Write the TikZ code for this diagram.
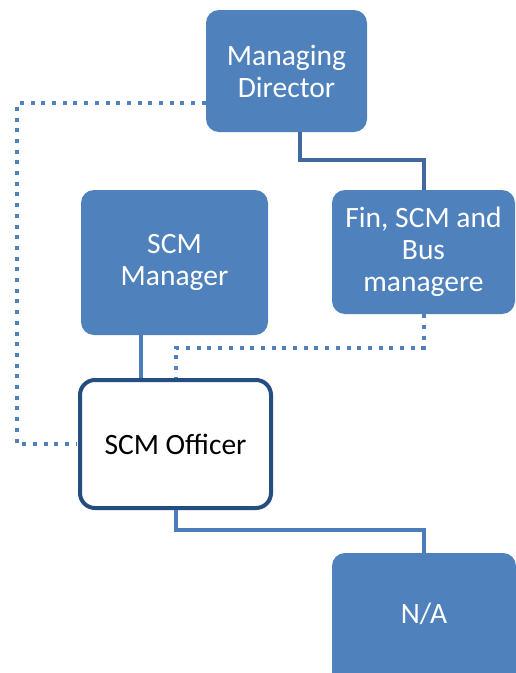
\documentclass[tikz,border=0pt]{standalone}
\usepackage{fontspec}
\setmainfont{Carlito}
\usetikzlibrary{calc}
\definecolor{boxblue}{HTML}{4F81BD}
\definecolor{darkline}{HTML}{244D80}
\definecolor{linkblue}{HTML}{4A7EBB}
\definecolor{toplink}{HTML}{41699F}
\tikzset{
  role box/.style={
    rectangle,
    rounded corners=13pt,
    fill=boxblue,
    text=white,
    align=center,
    font=\fontsize{29.5}{32}\selectfont
  },
  officer box/.style={
    rectangle,
    rounded corners=15pt,
    draw=darkline,
    line width=4pt,
    fill=white,
    align=center,
    font=\fontsize{29.5}{32}\selectfont
  },
  solid link/.style={
    line width=4pt,
    color=linkblue
  },
  dotted link/.style={
    line width=4pt,
    color=boxblue,
    dash pattern=on 4pt off 6.7pt
  }
}

\begin{document}
\begin{tikzpicture}[x=1pt, y=1pt]
    \useasboundingbox (0,0) rectangle (516,-673);
    \clip (0,0) rectangle (516,-673);

    % kaders (boxes)
    \node[role box, minimum width=161pt, minimum height=122pt] (md) at (286.5,-71) {Managing\\Director};
    \node[role box, minimum width=183pt, minimum height=124pt] (fin) at (423.5,-252) {Fin, SCM and\\Bus\\managere};
    \node[role box, minimum width=187pt, minimum height=145pt] (mgr) at (174.5,-262.5) {SCM\\Manager};
    \node[role box, minimum width=184pt, minimum height=140pt, text depth=20pt] (na) at (424,-623) {N/A};

    % lijnen achter de officer
    \coordinate (lft) at (17,-444);
    \draw[dotted link] ([yshift=-32pt]md.west) -| (lft) -- (77,-444);
    \draw[solid link] ([xshift=-34pt]mgr.south) -- ++(0,-45);
    \draw[dotted link] (fin.south) -- ++(0,-34) -| (175.5,-378);

    \node[officer box, minimum width=191pt, minimum height=128pt] (off) at (175.5,-444) {SCM Officer};

    % vaste lijnen
    \draw[solid link, color=toplink] ([xshift=13.5pt]md.south) -- ++(0,-28) -| (fin.north);
    \draw[solid link] (off.south) -- ++(0,-20) -| (na.north);

\end{tikzpicture}
\end{document}
